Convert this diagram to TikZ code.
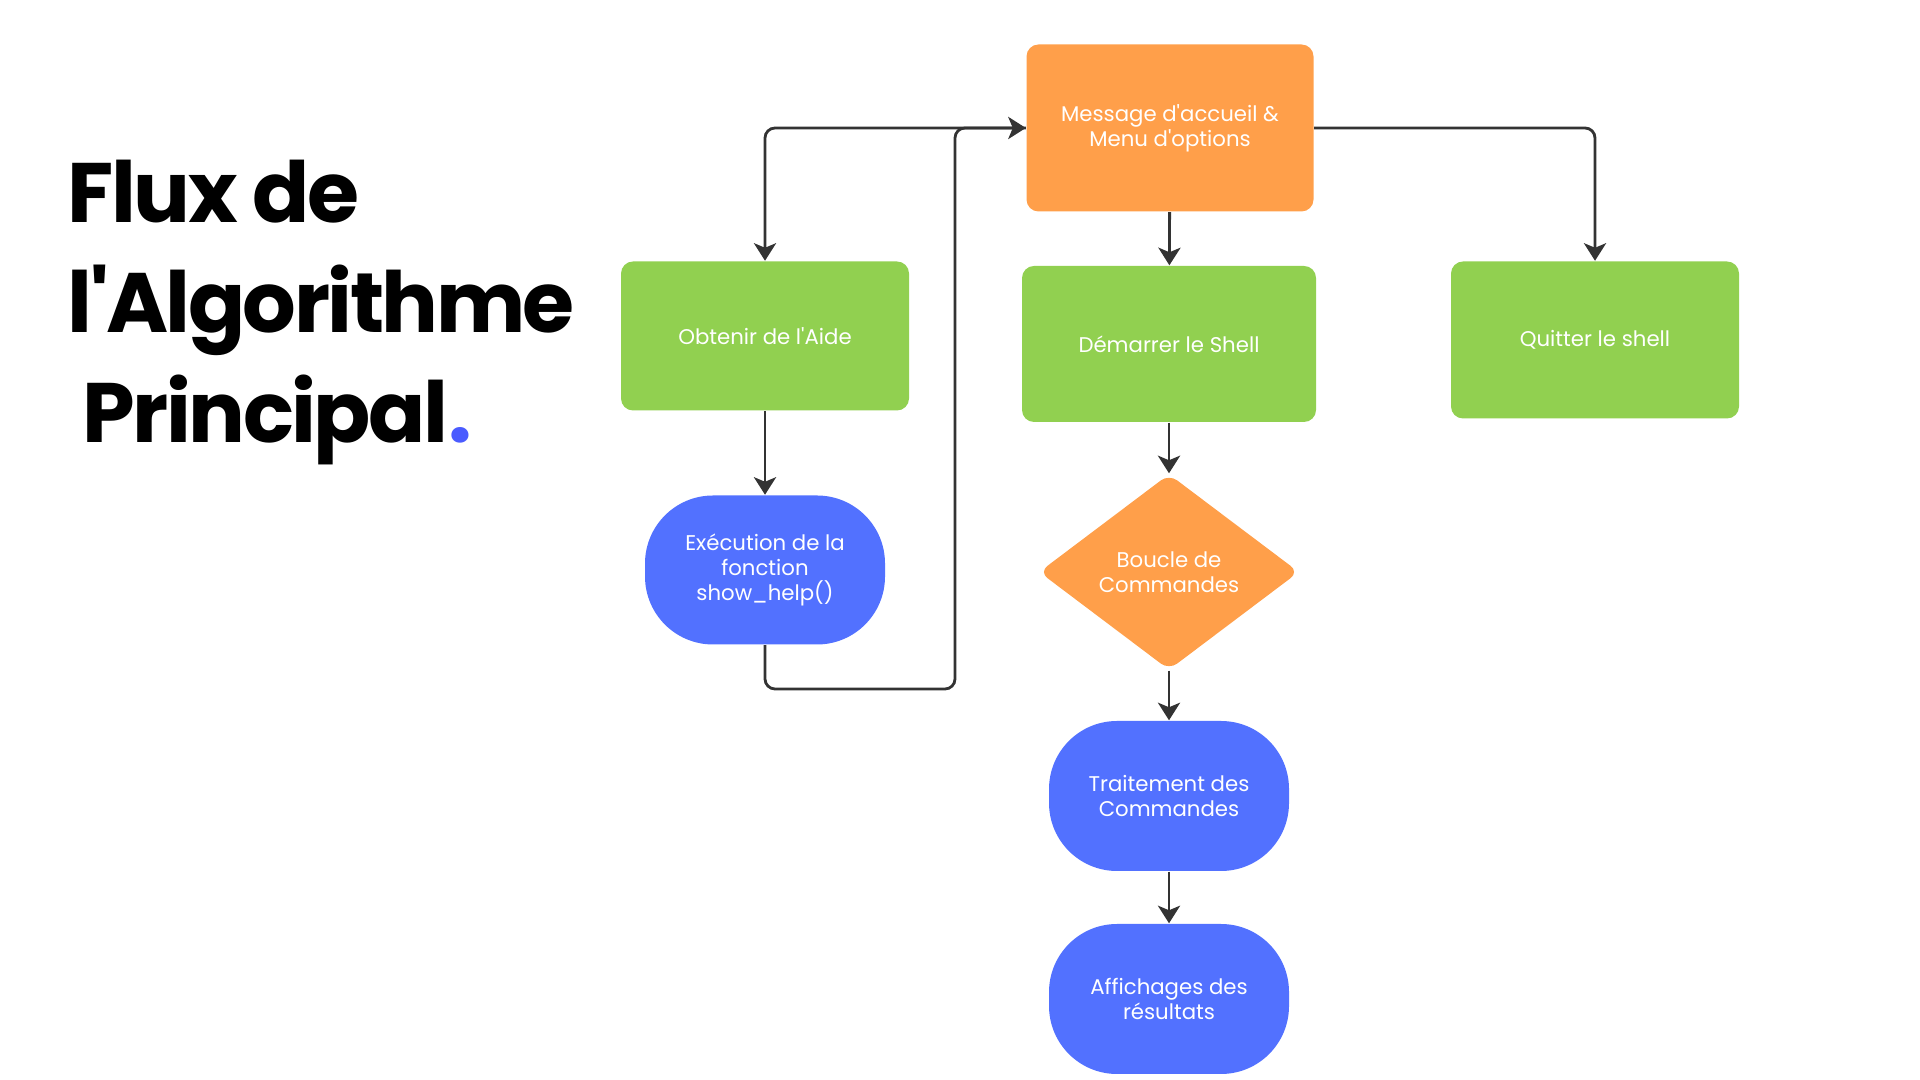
\documentclass[tikz,border=0pt]{standalone}
\usepackage{fontspec}
\usepackage{xcolor}
\usepackage{tikz}
\usetikzlibrary{arrows.meta,shapes.geometric}

\newfontfamily\poppins{Poppins}

\definecolor{boxorange}{HTML}{FF9F4A}
\definecolor{boxgreen}{HTML}{91D050}
\definecolor{boxblue}{HTML}{5271FF}
\definecolor{linegray}{HTML}{333333}
\definecolor{dotblue}{HTML}{4A5BFF}

\begin{document}
\begin{tikzpicture}[
  every node/.style={font=\poppins\fontsize{6.05}{7.2}\selectfont, text=white, align=center, inner sep=0pt},
  stepbox/.style={rectangle, rounded corners=0.12cm, fill=boxgreen, minimum width=2.88cm, minimum height=1.52cm},
  msgbox/.style={rectangle, rounded corners=0.12cm, fill=boxorange, minimum width=2.87cm, minimum height=1.67cm},
  loopbox/.style={diamond, rounded corners=0.1cm, fill=boxorange, minimum width=2.6cm, minimum height=1.96cm},
  runbox/.style={rectangle, rounded corners=0.68cm, fill=boxblue, minimum width=2.4cm, minimum height=1.5cm},
  titletext/.style={font=\poppins\bfseries\fontsize{24}{30}\selectfont\addfontfeature{LetterSpace=-3}, text=black, anchor=base west},
  arr/.style={-{Stealth[length=5pt,width=6.3pt,inset=1.3pt]}, line width=0.8pt, draw=linegray, rounded corners=0.1cm}
]
  \useasboundingbox (0,0) rectangle (19.2,10.8);

  % titre
  \node[titletext] (title1) at (0.67,8.57) {Flux de};
  \node[titletext] (title2) at (0.67,7.47) {l'Algorithme};
  \node[titletext] (title3) at (0.82,6.37) {Principal\textcolor{dotblue}{.}};

  % blocs
  \node[msgbox]  (msg)   at (11.70,9.52) {Message d'accueil \&\\Menu d'options};
  \node[stepbox, minimum height=1.49cm] (aide)  at (7.65,7.44)  {Obtenir de l'Aide};
  \node[stepbox, minimum width=2.94cm, minimum height=1.56cm] (shell) at (11.69,7.36) {D\'emarrer le Shell};
  \node[stepbox, minimum height=1.57cm] (quit)  at (15.95,7.40) {Quitter le shell};
  \node[runbox, minimum height=1.49cm] (help)  at (7.65,5.10)  {Ex\'ecution de la\\fonction\\show\_help()};
  \node[loopbox] (loop)  at (11.69,5.08) {Boucle de\\Commandes};
  \node[runbox]  (trait) at (11.69,2.84) {Traitement des\\Commandes};
  \node[runbox]  (aff)   at (11.69,0.81) {Affichages des\\r\'esultats};

  \coordinate (back) at (9.55,3.91);

  % liaisons
  \draw[arr] (msg.west) -| (aide.north);
  \draw[arr] (msg.east) -| (quit.north);
  \draw[arr] (msg) -- (shell);
  \draw[arr] (aide) -- (help);
  \draw[arr] (help.south) |- (back) |- (msg.west);
  \draw[arr] (shell) -- (loop);
  \draw[arr] (loop) -- (trait);
  \draw[arr] (trait) -- (aff);
\end{tikzpicture}
\end{document}
